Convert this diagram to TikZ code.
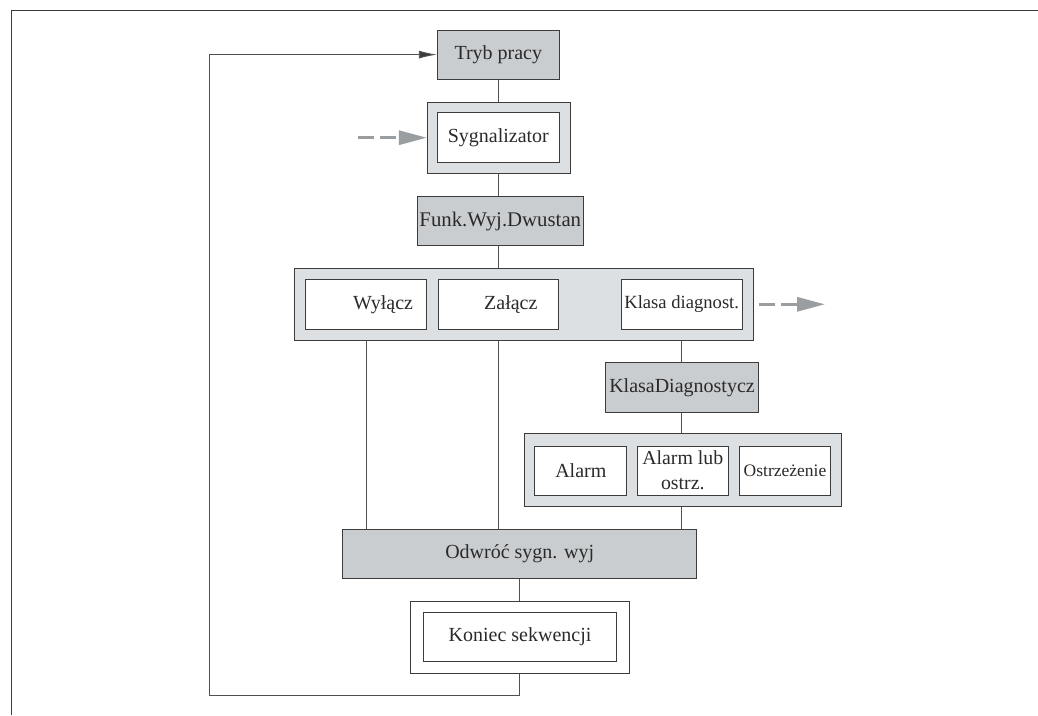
\documentclass[tikz,border=0pt]{standalone}
\usepackage{fontspec}
\setmainfont{Liberation Serif}
\usetikzlibrary{arrows.meta}
\definecolor{boxgray}{HTML}{C9CDD0}
\definecolor{panelgray}{HTML}{DDE0E2}
\definecolor{edge}{HTML}{3C3C3C}
\definecolor{wire}{HTML}{505050}
\definecolor{hint}{HTML}{9B9EA1}
\definecolor{ink}{HTML}{2A2A2A}
\begin{document}
\begin{tikzpicture}[x=1pt,y=-1pt,
  base/.style={draw=edge,line width=1pt,inner sep=0pt,text=ink,
    font=\fontsize{20}{24}\selectfont},
  graybox/.style={base,fill=boxgray},
  panel/.style={base,fill=panelgray},
  whitebox/.style={base,fill=white},
  wireline/.style={draw=wire,line width=0.9pt},
  dasharrow/.style={draw=hint,line width=3pt,dash pattern=on 16pt off 6pt,
    -{Triangle[length=28pt,width=14pt,fill=hint]}},
  looparrow/.style={wireline,-{Latex[length=18pt,width=8pt,fill=edge]}}]
\useasboundingbox (0,0) rectangle (1038,715);

% page frame (top and left edges)
\draw[edge,line width=1.5pt] (1038,10.5) -- (11.5,10.5) -- (11.5,715);

% operating mode
\node[graybox,minimum width=122,minimum height=49] (tryb) at (498.3,54.6) {Tryb pracy};

% signaliser
\node[panel,minimum width=142.7,minimum height=71.3] (sygo) at (498.7,137.7) {};
\node[whitebox,minimum width=122,minimum height=50] (sygi) at (498.3,137.7) {Sygnalizator};

% switch output function
\node[graybox,minimum width=166,minimum height=49,font=\fontsize{20.8}{24}\selectfont] (funk) at (500.3,221.2) {Funk.Wyj.Dwustan};

% option row
\node[panel,minimum width=458.8,minimum height=71.7] (row) at (524.1,304.2) {};
\node[whitebox,minimum width=120.8,minimum height=50] (wyl) at (366.1,304.3) {\hspace*{34pt}Wyłącz};
\node[whitebox,minimum width=120.6,minimum height=50] (zal) at (498.3,304.3) {\hspace*{25pt}Załącz};
\node[whitebox,minimum width=121.3,minimum height=50,font=\fontsize{18.6}{22}\selectfont] (kld) at (681.7,304.3) {Klasa diagnost.};

% diagnostic class
\node[graybox,minimum width=152.6,minimum height=49.6] (klas) at (682,387.5) {KlasaDiagnostycz};
\node[panel,minimum width=316.7,minimum height=73.4] (grp) at (683.3,470) {};
\node[whitebox,minimum width=91.7,minimum height=49] (alarm) at (580.8,470.5) {Alarm};
\node[whitebox,minimum width=91,minimum height=49,align=center,
  font=\fontsize{19.8}{25}\selectfont] (alost) at (682.8,470.5) {Alarm lub\\ostrz.};
\node[whitebox,minimum width=91.4,minimum height=49,font=\fontsize{17.5}{21}\selectfont] (ostr) at (785,470.5) {Ostrzeżenie};

% invert output signal
\node[graybox,minimum width=354,minimum height=49] (odw) at (519.7,553.5) {Odwróć sygn. wyj};

% end of sequence
\node[whitebox,minimum width=219.3,minimum height=72.3] (endo) at (519.7,637.2) {};
\node[whitebox,minimum width=193.4,minimum height=48.7] (endi) at (520,636.7) {Koniec sekwencji};

% vertical connectors
\draw[wireline] (tryb.south) -- (tryb.south |- sygo.north);
\draw[wireline] (sygo.south) -- (sygo.south |- funk.north);
\draw[wireline] (sygo.south |- funk.south) -- (sygo.south |- row.north);
\draw[wireline] (wyl.south |- row.south) -- (wyl.south |- odw.north);
\draw[wireline] (zal.south |- row.south) -- (zal.south |- odw.north);
\draw[wireline] (kld.south |- row.south) -- (kld.south |- klas.north);
\draw[wireline] (kld.south |- klas.south) -- (kld.south |- grp.north);
\draw[wireline] (kld.south |- grp.south) -- (kld.south |- odw.north);
\draw[wireline] (endo.north |- odw.south) -- (endo.north);

% return loop
\coordinate (loopbot) at (209.5,695);
\draw[looparrow] (endo.south) -- (endo.south |- loopbot) -- (loopbot)
  -- (loopbot |- tryb.west) -- (tryb.west);

% dashed hints
\coordinate (sygin) at (358,137.7);
\coordinate (klstart) at (759,304.3);
\coordinate (klend) at (825,304.3);
\draw[dasharrow] (sygin) -- (sygo.west);
\draw[dasharrow] (klstart) -- (klend);
\end{tikzpicture}
\end{document}
